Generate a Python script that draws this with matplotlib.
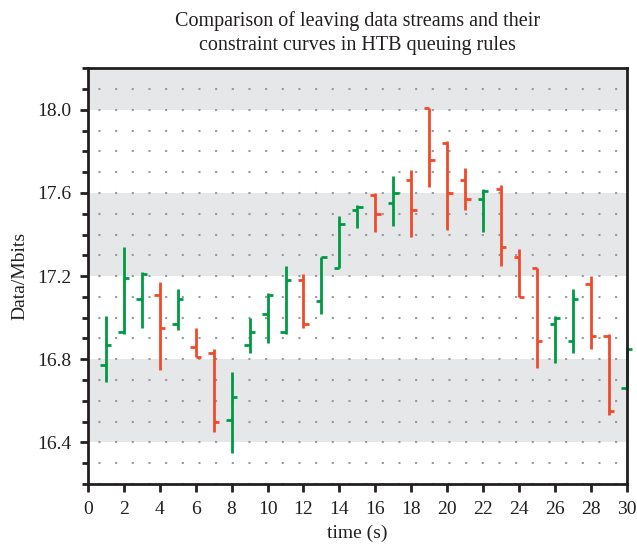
import matplotlib
matplotlib.use('Agg')
from matplotlib import pyplot as plt

plt.rcParams['font.family'] = ['Liberation Serif', 'DejaVu Serif']

# time (s) and the open/high/low/close of every bar
tempo = list(range(1, 31))
abertura = [16.77, 16.93, 17.09, 17.11, 16.97, 16.86, 16.83, 16.51, 16.87, 17.02,
            16.93, 17.18, 17.08, 17.24, 17.52, 17.59, 17.55, 17.66, 18.01, 17.84,
            17.66, 17.57, 17.62, 17.29, 17.24, 16.97, 16.89, 17.16, 16.91, 16.66]
maximo = [17.01, 17.34, 17.22, 17.17, 17.14, 16.95, 16.85, 16.74, 17.00, 17.12,
          17.25, 17.21, 17.29, 17.49, 17.54, 17.60, 17.68, 17.71, 18.01, 17.85,
          17.72, 17.62, 17.64, 17.33, 17.24, 17.01, 17.14, 17.20, 16.92, 16.86]
minimo = [16.69, 16.92, 16.95, 16.75, 16.94, 16.81, 16.45, 16.35, 16.83, 16.88,
          16.92, 16.95, 17.02, 17.24, 17.43, 17.41, 17.44, 17.39, 17.63, 17.42,
          17.52, 17.41, 17.25, 17.10, 16.76, 16.78, 16.83, 16.85, 16.53, 16.66]
fechamento = [16.87, 17.19, 17.21, 16.95, 17.09, 16.81, 16.50, 16.62, 16.93, 17.11,
              17.18, 16.97, 17.29, 17.45, 17.53, 17.50, 17.60, 17.52, 17.76, 17.60,
              17.57, 17.61, 17.34, 17.10, 16.89, 17.00, 17.09, 16.91, 16.55, 16.85]

verde = '#009a44'
vermelho = '#f04a2a'

fig = plt.figure(figsize=(6.37, 5.5), dpi=100)
ax = fig.add_axes([0.138, 0.12, 0.846, 0.756])

# faixas cinzas alternadas
for y0 in [18.0, 17.2, 16.4]:
    ax.axhspan(y0, y0 + 0.4, color='#e6e7e9', zorder=0, lw=0)

# grade pontilhada a cada 0.1
for i in range(21):
    y = 16.2 + i * 0.1
    ax.axhline(y, color='#999999', linestyle=(3, (1, 7)), linewidth=1.5, zorder=1)

w = 0.3
for t, o, h, l, c in zip(tempo, abertura, maximo, minimo, fechamento):
    cor = verde if c >= o else vermelho
    ax.plot([t, t], [l, h], color=cor, linewidth=2, solid_capstyle='butt', zorder=3, clip_on=False)
    ax.plot([t - w, t], [o, o], color=cor, linewidth=2, solid_capstyle='butt', zorder=3, clip_on=False)
    ax.plot([t, t + w], [c, c], color=cor, linewidth=2, solid_capstyle='butt', zorder=3, clip_on=False)

ax.set_xlim(0, 30)
ax.set_ylim(16.2, 18.2)
ax.set_xticks(range(0, 31, 2))
ax.set_yticks([16.4, 16.8, 17.2, 17.6, 18.0])
ax.set_yticks([16.2 + i * 0.1 for i in range(21)], minor=True)
ax.set_yticklabels(['16.4', '16.8', '17.2', '17.6', '18.0'])

for s in ax.spines.values():
    s.set_linewidth(2)
    s.set_color('#231f20')
    s.set_zorder(5)

ax.tick_params(axis='both', which='major', length=6, width=2, color='#231f20',
               labelsize=14, labelcolor='#231f20', pad=6)
ax.tick_params(axis='y', which='minor', length=4, width=2, color='#231f20')

ax.set_xlabel('time (s)', fontsize=14, color='#231f20', labelpad=5)
ax.set_ylabel('Data/Mbits', fontsize=14, color='#231f20', labelpad=6)
ax.set_title('Comparison of leaving data streams and their\nconstraint curves in HTB queuing rules',
             fontsize=14.5, color='#231f20', pad=13, linespacing=1.35)

plt.savefig('out.png', dpi=100)
